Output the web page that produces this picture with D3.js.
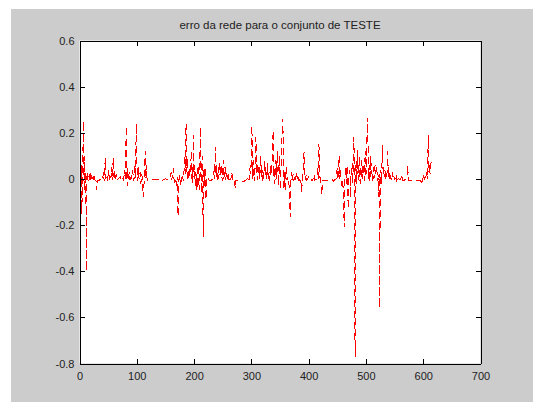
<!DOCTYPE html>
<html>
<head>
<meta charset="utf-8">
<script src="https://cdn.jsdelivr.net/npm/d3@7"></script>
<style>
  body { margin: 0; background: #fff; }
  text { font-family: "Liberation Sans", Arial, sans-serif; }
</style>
</head>
<body>
<div id="plot"></div>
<script>
// chart text and ticks
const title = "erro da rede para o conjunto de TESTE";
const xTicks = [0, 100, 200, 300, 400, 500, 600, 700];
const yTicks = [-0.8, -0.6, -0.4, -0.2, 0, 0.2, 0.4, 0.6];

// network error on the TEST set: [sample index, error]
const testError = [
  [1,-0.03],[2,0.02],[3,-0.15],[4,0.06],[5,-0.1],[6,0.12],[7,0.25],[8,-0.05],[9,0.1],[10,-0.02],
  [11,0.03],[12,-0.4],[13,0.01],[14,0.03],[15,-0.01],[17,0.02],[18,-0.01],[20,0.03],[21,0],[22,0.02],
  [24,-0.005],[26,0.02],[27,-0.005],[29,-0.01],[30,-0.05],[31,-0.005],[35,-0.005],[38,0],[40,-0.005],[42,0.03],
  [43,-0.01],[45,0.09],[46,0],[48,0.02],[49,-0.01],[51,0.04],[52,0],[54,0.01],[56,0.05],[57,-0.005],
  [59,0.09],[60,0.01],[61,0.04],[62,-0.005],[64,0.02],[65,-0.005],[68,0],[71,0.01],[72,-0.005],[75,0.005],
  [77,-0.005],[79,0.04],[80,0],[81,0.15],[82,0.23],[83,-0.03],[84,0.05],[85,0],[87,0.03],[88,-0.005],
  [90,0.02],[91,0],[93,0.04],[94,-0.01],[96,0.01],[97,0.06],[98,0],[99,0.24],[100,0.11],[101,-0.01],
  [103,0.05],[104,0],[106,0.03],[107,-0.02],[109,0.02],[110,-0.03],[112,-0.08],[113,0.01],[115,0.12],[116,0],
  [117,0.06],[118,-0.005],[121,-0.005],[125,0],[130,-0.005],[135,0],[140,-0.005],[143,-0.01],[145,-0.005],[150,0],
  [155,-0.005],[158,0],[160,0.03],[161,-0.005],[164,0.045],[165,0],[167,-0.02],[168,-0.005],[170,-0.03],[171,0.01],
  [172,-0.16],[173,-0.01],[175,0.02],[176,-0.03],[178,0],[180,0.02],[181,-0.01],[183,0.05],[184,0.1],[185,0.02],
  [186,0.24],[187,0.03],[188,0.09],[189,-0.01],[190,0.04],[191,0],[193,0.06],[194,0.02],[195,0.12],[196,0],
  [197,0.05],[198,-0.02],[199,0.19],[200,0.01],[201,0.06],[202,-0.03],[203,0.03],[204,-0.05],[205,0.02],[206,-0.04],
  [207,0.06],[208,0],[209,-0.05],[210,0.08],[211,0.225],[212,0.02],[213,-0.06],[214,0.1],[215,-0.02],[216,-0.25],
  [217,0.04],[218,-0.03],[219,0.05],[220,-0.06],[221,-0.09],[222,0],[224,0.01],[226,-0.005],[230,-0.005],[233,0],
  [235,0.04],[236,0],[237,0.14],[238,0.02],[239,0.06],[240,-0.005],[242,0.05],[243,0],[245,0.07],[246,0.01],
  [248,0.06],[249,-0.01],[251,0.08],[252,0],[254,0.05],[255,-0.005],[257,0.03],[258,0],[260,0.02],[261,-0.005],
  [263,0.01],[264,-0.005],[266,0.03],[267,-0.005],[270,0],[272,-0.04],[273,-0.005],[276,-0.005],[278,-0.01],[283,-0.01],
  [288,-0.01],[290,-0.005],[293,0],[295,0.01],[296,-0.005],[298,0.06],[299,0.02],[300,0.1],[301,0.23],[302,0],
  [303,0.08],[304,0.01],[305,0.04],[306,-0.01],[307,0.14],[308,0.18],[309,0.02],[310,0.07],[311,-0.005],[313,0.05],
  [314,0],[316,0.1],[317,0.01],[318,0.06],[319,-0.01],[320,0.04],[321,0],[323,0.08],[324,0.02],[325,0.05],
  [326,-0.01],[328,0.07],[329,0],[331,0.03],[332,-0.01],[334,0.06],[335,0.02],[337,0.1],[338,0.21],[339,0.01],
  [340,0.05],[341,-0.02],[343,0.08],[344,0],[345,0.12],[346,0.03],[347,0.06],[348,-0.03],[349,0.1],[350,0.04],
  [351,-0.05],[352,0.08],[353,0.15],[354,0.2],[355,0.26],[356,0.05],[357,-0.04],[358,0.03],[359,-0.055],[360,0.02],
  [361,0.05],[362,-0.005],[364,0.01],[366,-0.03],[367,-0.1],[368,-0.165],[369,0],[370,0.03],[371,-0.005],[373,0.02],
  [374,-0.01],[376,0.01],[377,-0.005],[379,0.03],[380,0],[382,0.02],[383,-0.01],[385,0.005],[387,-0.02],[388,-0.055],
  [389,0],[391,0.06],[392,0.115],[393,0.01],[394,-0.005],[396,0.02],[397,-0.005],[400,0.01],[401,-0.005],[404,0],
  [406,-0.01],[408,0],[410,0.02],[411,-0.005],[414,0],[416,0.05],[417,-0.005],[418,0.15],[419,0.04],[420,0],
  [421,-0.02],[423,-0.07],[424,-0.005],[428,-0.005],[433,-0.005],[438,-0.005],[441,0],[443,-0.01],[445,-0.005],[448,0],
  [450,0.05],[451,-0.005],[453,0.1],[454,0],[456,0.04],[457,-0.03],[459,-0.005],[461,-0.06],[462,-0.21],[463,0],
  [465,0.05],[466,-0.02],[467,0.06],[468,-0.01],[469,-0.13],[470,0],[472,0.04],[473,-0.08],[474,0.02],[476,0.07],
  [477,-0.02],[479,0.18],[480,-0.05],[481,-0.77],[482,0.01],[483,0.08],[484,-0.02],[485,0.125],[486,0.02],[487,0.06],
  [488,-0.01],[489,0.1],[490,0.03],[491,-0.02],[493,0.08],[494,0],[495,0.05],[496,0.02],[497,0.09],[498,-0.01],
  [499,0.04],[500,0.12],[501,0.02],[502,0.2],[503,0.265],[504,0.08],[505,0],[506,0.06],[507,-0.01],[508,0.1],
  [509,0.03],[510,0.07],[511,-0.01],[513,0.05],[514,0],[516,0.06],[517,0.02],[519,0.05],[520,-0.01],[521,0.03],
  [522,-0.08],[523,0.02],[524,-0.56],[525,0.01],[526,0.04],[527,-0.02],[529,0.145],[530,0.02],[531,0.05],[533,0.01],
  [534,0.04],[535,-0.005],[537,0.03],[538,0.12],[539,0.01],[540,0.05],[541,0],[543,0.02],[544,-0.005],[546,0.03],
  [547,0],[549,0.01],[550,-0.005],[553,0.02],[554,-0.005],[557,0.01],[558,-0.005],[561,0],[563,0.02],[564,-0.005],
  [567,-0.005],[570,0],[572,0.02],[573,0.06],[574,-0.005],[577,-0.005],[582,-0.005],[587,-0.005],[592,-0.005],[596,-0.01],
  [598,-0.025],[599,-0.005],[601,0.02],[602,-0.005],[604,0.01],[606,0.03],[607,0],[608,0.09],[609,0.19],[610,0.03],
  [611,0.06],[612,0.02],[613,0.05],[614,0.08]
];

const W = 533, H = 402;
const box = { left: 79.5, right: 480.5, top: 40.5, bottom: 363.5 };

const svg = d3.select("div#plot").append("svg")
    .attr("width", W)
    .attr("height", H);

// figure background
svg.append("rect")
    .attr("x", 11).attr("y", 9)
    .attr("width", W - 11).attr("height", H - 9)
    .attr("fill", "#cccccc");

const x = d3.scaleLinear().domain([0, 700]).range([box.left, box.right]);
const y = d3.scaleLinear().domain([-0.8, 0.6]).range([box.bottom, box.top]);

// axes area
svg.append("rect")
    .attr("x", box.left).attr("y", box.top)
    .attr("width", box.right - box.left).attr("height", box.bottom - box.top)
    .attr("fill", "#ffffff");

// the error curve
const line = d3.line().x(d => x(d[0])).y(d => y(d[1]));
svg.append("path")
    .datum(testError)
    .attr("fill", "none")
    .attr("stroke", "#ff0000")
    .attr("stroke-width", 1)
    .attr("stroke-dasharray", "7,4")
    .attr("shape-rendering", "crispEdges")
    .attr("d", line);

const fmtY = d => d === 0 ? "0" : d.toFixed(1);

function styleAxis(g) {
  g.attr("shape-rendering", "crispEdges");
  g.selectAll("path, line").attr("stroke", "#000");
  g.selectAll("text")
    .attr("fill", "#222")
    .style("font-size", "11px")
    .style("font-family", "'Liberation Sans', Arial, sans-serif");
}

svg.append("g")
    .attr("transform", `translate(0,${box.bottom})`)
    .call(d3.axisBottom(x).tickValues(xTicks).tickSize(-5).tickSizeOuter(0).tickPadding(9))
    .call(styleAxis);

svg.append("g")
    .attr("transform", `translate(${box.left},0)`)
    .call(d3.axisLeft(y).tickValues(yTicks).tickFormat(fmtY).tickSize(-5).tickSizeOuter(0).tickPadding(5))
    .call(styleAxis);

svg.append("g")
    .attr("transform", `translate(0,${box.top})`)
    .call(d3.axisTop(x).tickValues(xTicks).tickFormat("").tickSize(-5).tickSizeOuter(0))
    .call(styleAxis);

svg.append("g")
    .attr("transform", `translate(${box.right},0)`)
    .call(d3.axisRight(y).tickValues(yTicks).tickFormat("").tickSize(-5).tickSizeOuter(0))
    .call(styleAxis);

svg.append("text")
    .attr("x", (box.left + box.right) / 2)
    .attr("y", 29)
    .attr("text-anchor", "middle")
    .attr("fill", "#222")
    .style("font-size", "11.5px")
    .text(title);
</script>
</body>
</html>
